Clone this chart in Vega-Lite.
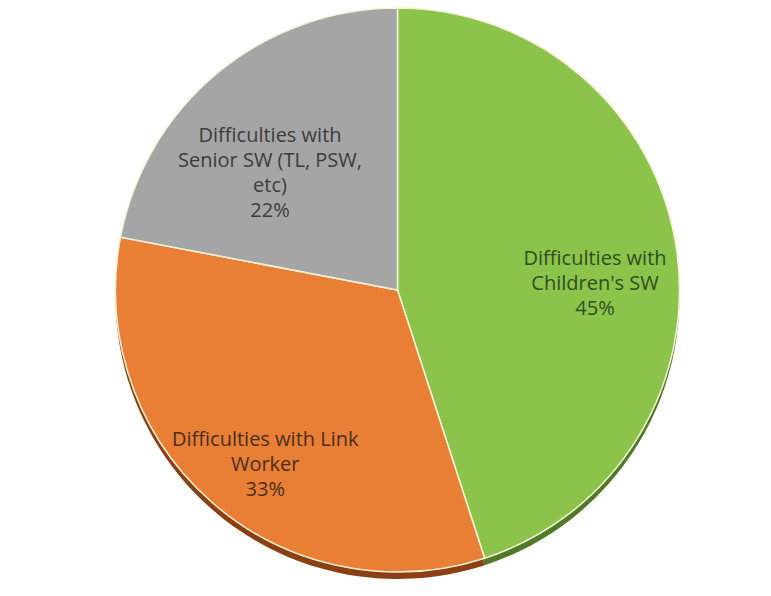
{
  "$schema": "https://vega.github.io/schema/vega-lite/v6.json",
  "width": 771,
  "height": 596,
  "autosize": {"type": "fit", "contains": "padding"},
  "padding": {"left": 24, "top": 0, "right": 0, "bottom": 16},
  "background": "white",
  "view": {"stroke": null},
  "data": {
    "values": [
      {"category": "Difficulties with Children's SW", "label": "Difficulties with|Children's SW|45%", "value": 45, "order": 1},
      {"category": "Difficulties with Link Worker", "label": "Difficulties with Link|Worker|33%", "value": 33, "order": 2},
      {"category": "Difficulties with Senior SW (TL, PSW, etc)", "label": "Difficulties with|Senior SW (TL, PSW,|etc)|22%", "value": 22, "order": 3}
    ]
  },
  "encoding": {
    "theta": {"field": "value", "type": "quantitative", "stack": true},
    "order": {"field": "order", "type": "ordinal"}
  },
  "layer": [
    {
      "mark": {"type": "arc", "outerRadius": 282, "yOffset": 7},
      "encoding": {
        "color": {
          "field": "category", "type": "nominal", "legend": null,
          "scale": {"domain": ["Difficulties with Children's SW", "Difficulties with Link Worker", "Difficulties with Senior SW (TL, PSW, etc)"], "range": ["#4f7a26", "#8c3f12", "#7a7a7a"]}
        }
      }
    },
    {
      "mark": {"type": "arc", "outerRadius": 282, "stroke": "#f6f2d8", "strokeWidth": 1.5},
      "encoding": {
        "color": {
          "field": "category", "type": "nominal", "legend": null,
          "scale": {"domain": ["Difficulties with Children's SW", "Difficulties with Link Worker", "Difficulties with Senior SW (TL, PSW, etc)"], "range": ["#8cc34b", "#e97f35", "#a5a5a5"]}
        }
      }
    },
    {
      "mark": {"type": "text", "radius": 200, "font": "Open Sans", "fontSize": 20, "lineBreak": "|", "lineHeight": 25, "align": "center", "baseline": "middle"},
      "encoding": {
        "text": {"field": "label", "type": "nominal"},
        "color": {
          "field": "category", "type": "nominal", "legend": null,
          "scale": {"domain": ["Difficulties with Children's SW", "Difficulties with Link Worker", "Difficulties with Senior SW (TL, PSW, etc)"], "range": ["#2f4f22", "#4a2e1c", "#3c3c3c"]}
        }
      }
    }
  ],
  "resolve": {"scale": {"color": "independent"}}
}
